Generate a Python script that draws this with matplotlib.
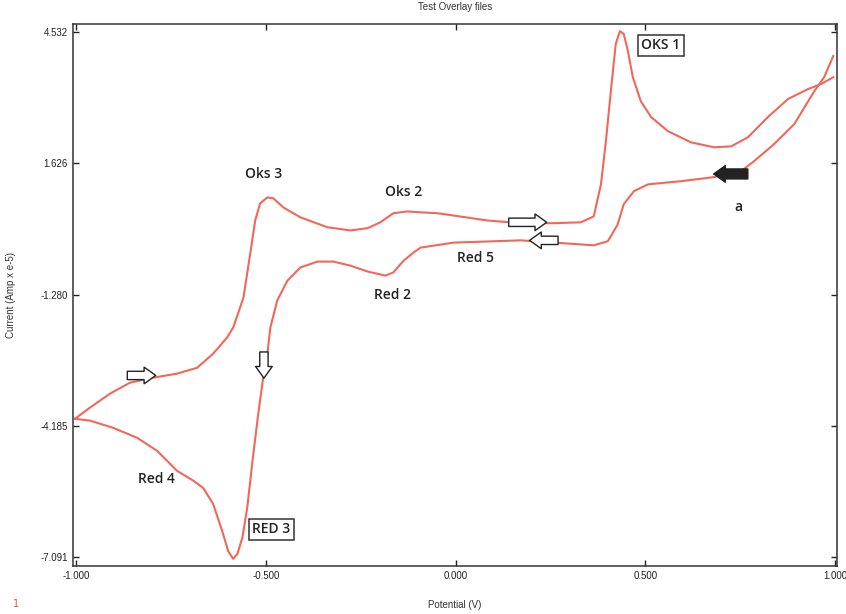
import matplotlib
matplotlib.use('Agg')
import matplotlib.pyplot as plt
import numpy as np

# anodic (forward) scan
v_fwd = [-1.003, -0.963, -0.910, -0.858, -0.797, -0.734, -0.681, -0.639, -0.602,
         -0.586, -0.559, -0.541, -0.528, -0.515, -0.496, -0.480, -0.454, -0.409,
         -0.338, -0.277, -0.232, -0.198, -0.164, -0.127, -0.092, -0.047, 0.084,
         0.172, 0.259, 0.330, 0.364, 0.383, 0.396, 0.409, 0.422, 0.433, 0.443,
         0.454, 0.467, 0.488, 0.515, 0.559, 0.620, 0.681, 0.726, 0.770, 0.823,
         0.876, 0.929, 0.963, 0.995]
i_fwd = [-4.03, -3.78, -3.47, -3.23, -3.12, -3.03, -2.90, -2.59, -2.23,
         -2.01, -1.35, -0.37, 0.36, 0.74, 0.87, 0.85, 0.65, 0.43,
         0.21, 0.14, 0.19, 0.32, 0.52, 0.56, 0.54, 0.52, 0.36,
         0.30, 0.30, 0.32, 0.45, 1.16, 2.11, 3.22, 4.27, 4.55, 4.49,
         4.11, 3.53, 3.00, 2.65, 2.34, 2.09, 1.98, 2.00, 2.20, 2.65,
         3.05, 3.27, 3.38, 3.53]

# cathodic (reverse) scan
v_rev = [0.995, 0.971, 0.945, 0.892, 0.839, 0.786, 0.752, 0.681, 0.594, 0.507,
         0.470, 0.443, 0.427, 0.401, 0.364, 0.330, 0.172, -0.005, -0.092, -0.111,
         -0.137, -0.164, -0.185, -0.232, -0.277, -0.322, -0.364, -0.409, -0.443,
         -0.470, -0.488, -0.496, -0.507, -0.520, -0.536, -0.549, -0.562, -0.575,
         -0.586, -0.599, -0.615, -0.639, -0.665, -0.691, -0.734, -0.786, -0.839,
         -0.902, -0.963, -1.003]
i_rev = [4.00, 3.53, 3.22, 2.49, 2.05, 1.67, 1.45, 1.32, 1.23, 1.16,
         1.01, 0.72, 0.27, -0.10, -0.19, -0.17, -0.08, -0.13, -0.24, -0.35,
         -0.53, -0.79, -0.86, -0.77, -0.64, -0.55, -0.55, -0.68, -0.97,
         -1.41, -2.01, -2.59, -3.12, -3.92, -5.03, -6.00, -6.67, -7.02,
         -7.13, -6.96, -6.51, -5.91, -5.56, -5.40, -5.18, -4.74, -4.45,
         -4.23, -4.07, -4.03]

x_ticks = [-1.0, -0.5, 0.0, 0.5, 1.0]
y_ticks = [4.532, 1.626, -1.280, -4.185, -7.091]

narrow = ['Liberation Sans Narrow', 'Liberation Sans', 'DejaVu Sans']

fig = plt.figure(figsize=(8.46, 6.14), dpi=100)
ax = fig.add_axes([0.0863, 0.078, 0.9031, 0.883])

red = '#f0685a'
ax.plot(v_fwd, i_fwd, color=red, lw=1.5)
ax.plot(v_rev, i_rev, color=red, lw=1.5)

ax.set_xlim(-1.008, 1.005)
ax.set_ylim(-7.29, 4.71)
ax.set_xticks(x_ticks)
ax.set_xticklabels(['%.3f' % t for t in x_ticks])
ax.set_yticks(y_ticks)
ax.set_yticklabels(['%.3f' % t for t in y_ticks])
ax.tick_params(direction='in', top=True, right=True, length=4, width=1,
               labelsize=7, colors='#222222')
for lbl in ax.get_xticklabels() + ax.get_yticklabels():
    lbl.set_family(narrow)
for s in ax.spines.values():
    s.set_linewidth(1.1)
    s.set_color('#333333')

ax.set_title('Test Overlay files', fontsize=7, pad=10, color='#333333', family=narrow)
ax.set_xlabel('Potential (V)', fontsize=7, labelpad=14, color='#333333', family=narrow)
ax.set_ylabel('Current (Amp x e-5)', fontsize=7, labelpad=18, color='#333333', family=narrow)
fig.text(0.015, 0.012, '1', color='#e05050', fontsize=7)

lab = dict(fontsize=10, family='Open Sans', fontweight='semibold', color='#222222',
           ha='center', va='center')
box = dict(boxstyle='square,pad=0.25', fc='white', ec='#333333', lw=1.1)
ax.text(0.54, 4.24, 'OKS 1', bbox=box, **lab)
ax.text(-0.506, 1.38, 'Oks 3', **lab)
ax.text(-0.137, 1.00, 'Oks 2', **lab)
ax.text(0.053, -0.46, 'Red 5', **lab)
ax.text(-0.166, -1.30, 'Red 2', **lab)
ax.text(-0.787, -5.36, 'Red 4', **lab)
ax.text(-0.485, -6.47, 'RED 3', bbox=box, **lab)
ax.text(0.745, 0.65, 'a', **lab)

hollow = dict(arrowstyle='simple,head_length=0.7,head_width=1.0,tail_width=0.5',
              fc='white', ec='#222222', lw=1, shrinkA=0, shrinkB=0, mutation_scale=12)
solid = dict(arrowstyle='simple,head_length=0.7,head_width=1.0,tail_width=0.6',
             fc='#222222', ec='#222222', lw=1, shrinkA=0, shrinkB=0, mutation_scale=12)
ax.annotate('', xy=(-0.790, -3.07), xytext=(-0.865, -3.07), arrowprops=hollow)
ax.annotate('', xy=(-0.505, -3.13), xytext=(-0.505, -2.55), arrowprops=hollow)
ax.annotate('', xy=(0.240, 0.32), xytext=(0.140, 0.32), arrowprops=hollow)
ax.annotate('', xy=(0.195, -0.08), xytext=(0.270, -0.08), arrowprops=hollow)
ax.annotate('', xy=(0.680, 1.39), xytext=(0.770, 1.39), arrowprops=solid)

fig.savefig('out.png', dpi=100)
